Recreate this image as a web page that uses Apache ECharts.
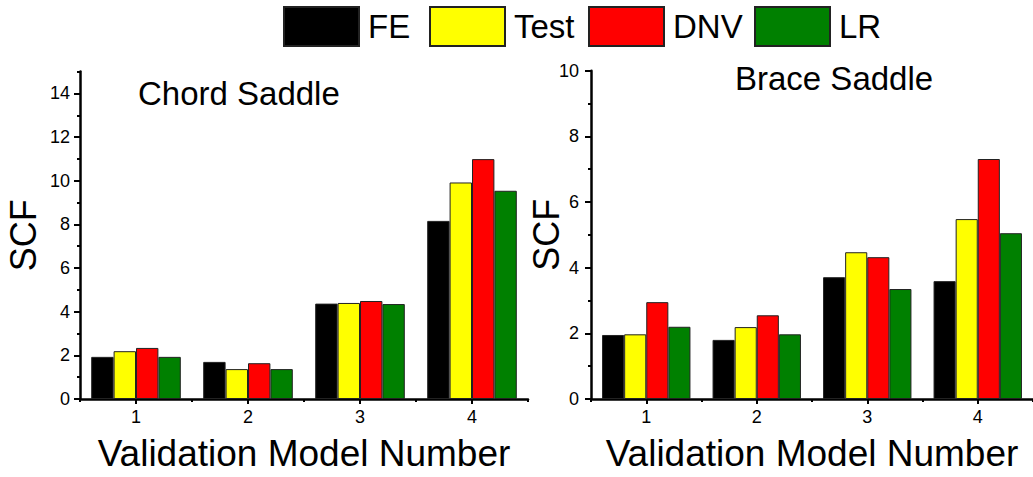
<!DOCTYPE html>
<html>
<head>
<meta charset="utf-8">
<script src="https://cdn.jsdelivr.net/npm/echarts@6/dist/echarts.min.js"></script>
<style>
html,body{margin:0;padding:0;background:#fff;}
#chart{width:1033px;height:477px;}
</style>
</head>
<body>
<div id="chart"></div>
<script>
// ---- data ----
const categories = ['1', '2', '3', '4'];
const seriesNames = ['FE', 'Test', 'DNV', 'LR'];
const chordFE   = [1.93, 1.70, 4.37, 8.16];
const chordTest = [2.19, 1.37, 4.40, 9.92];
const chordDNV  = [2.34, 1.64, 4.49, 10.99];
const chordLR   = [1.93, 1.37, 4.35, 9.54];
const braceFE   = [1.95, 1.80, 3.71, 3.59];
const braceTest = [1.97, 2.19, 4.47, 5.48];
const braceDNV  = [2.95, 2.55, 4.32, 7.31];
const braceLR   = [2.20, 1.97, 3.35, 5.05];
const chordMajorTicks = [0, 2, 4, 6, 8, 10, 12, 14];
const chordMinorTicks = [1, 3, 5, 7, 9, 11, 13, 15];
const titles = ['Chord Saddle', 'Brace Saddle'];
const xName = 'Validation Model Number';
const yName = 'SCF';

// ---- styles ----
const FONT = 'Liberation Sans, Arial, sans-serif';
const colors = ['#000000', '#ffff00', '#ff0000', '#008000'];
const lineStyle = { color: '#000', width: 2.5 };

const chart = echarts.init(document.getElementById('chart'), null, { renderer: 'svg' });

function mainX(gridIndex) {
  return {
    type: 'category', gridIndex: gridIndex, data: categories,
    axisLine: { show: true, lineStyle: lineStyle },
    axisTick: { show: true, alignWithLabel: true, length: 5, lineStyle: { color: '#000', width: 2 } },
    axisLabel: { fontSize: 18, color: '#000', fontFamily: FONT, margin: 9 },
    splitLine: { show: false },
    name: xName, nameLocation: 'middle', nameGap: 36, nameMoveOverlap: false,
    nameTextStyle: { fontSize: 37, color: '#000', fontFamily: FONT }
  };
}
function boundaryX(gridIndex) {
  return {
    type: 'category', gridIndex: gridIndex, data: categories, position: 'bottom',
    axisLine: { show: false },
    axisTick: { show: true, alignWithLabel: false, length: 3, lineStyle: { color: '#000', width: 2 } },
    axisLabel: { show: false }, splitLine: { show: false }
  };
}

const series = [];
const chordData = [chordFE, chordTest, chordDNV, chordLR];
const braceData = [braceFE, braceTest, braceDNV, braceLR];
seriesNames.forEach((n, i) => {
  series.push({
    name: n, type: 'bar', xAxisIndex: 0, yAxisIndex: 0, data: chordData[i],
    barGap: '0%', barCategoryGap: '20%',
    itemStyle: { color: colors[i], borderColor: '#222', borderWidth: 1 }
  });
});
seriesNames.forEach((n, i) => {
  series.push({
    name: n, type: 'bar', xAxisIndex: 2, yAxisIndex: 2, data: braceData[i],
    barGap: '0%', barCategoryGap: '20%',
    itemStyle: { color: colors[i], borderColor: '#222', borderWidth: 1 }
  });
});

const legendLefts = [283, 429, 588, 754];
const legends = seriesNames.map((n, i) => ({
  data: [n], left: legendLefts[i], top: 6, padding: 0,
  itemWidth: 75, itemHeight: 39, icon: 'rect',
  textStyle: { fontSize: 33, color: '#000', fontFamily: FONT, padding: [0, 0, 0, 4] },
  selectedMode: false
}));

const option = {
  backgroundColor: '#fff',
  animation: false,
  title: [
    { text: titles[0], left: 138, top: 77, padding: 0,
      textStyle: { fontSize: 33, fontWeight: 'normal', color: '#000', fontFamily: FONT } },
    { text: titles[1], left: 735, top: 62, padding: 0,
      textStyle: { fontSize: 33, fontWeight: 'normal', color: '#000', fontFamily: FONT } }
  ],
  legend: legends,
  grid: [
    { left: 80, top: 71.6, width: 448, height: 329 },
    { left: 591, top: 70.7, width: 447, height: 329.3 }
  ],
  xAxis: [mainX(0), boundaryX(0), mainX(1), boundaryX(1)],
  yAxis: [
    {
      type: 'value', gridIndex: 0, position: 'left', min: 0, max: 15, interval: 2,
      axisLine: { show: true, lineStyle: lineStyle },
      axisTick: { show: true, length: 6, customValues: chordMajorTicks, lineStyle: { color: '#000', width: 2 } },
      axisLabel: { customValues: chordMajorTicks, fontSize: 18, color: '#000', fontFamily: FONT, margin: 10 },
      splitLine: { show: false },
      name: yName, nameLocation: 'middle', nameRotate: 90, nameGap: 39, nameMoveOverlap: false,
      nameTextStyle: { fontSize: 36, color: '#000', fontFamily: FONT }
    },
    {
      type: 'value', gridIndex: 0, position: 'left', min: 0, max: 15, interval: 1,
      axisLine: { show: false },
      axisTick: { show: true, length: 3, customValues: chordMinorTicks, lineStyle: { color: '#000', width: 2 } },
      axisLabel: { show: false }, splitLine: { show: false }
    },
    {
      type: 'value', gridIndex: 1, position: 'left', min: 0, max: 10, interval: 2,
      axisLine: { show: true, lineStyle: lineStyle },
      axisTick: { show: true, length: 6, lineStyle: { color: '#000', width: 2 } },
      minorTick: { show: true, splitNumber: 2, length: 3, lineStyle: { color: '#000', width: 2 } },
      axisLabel: { fontSize: 18, color: '#000', fontFamily: FONT, margin: 12 },
      splitLine: { show: false }, minorSplitLine: { show: false },
      name: yName, nameLocation: 'middle', nameRotate: 90, nameGap: 27, nameMoveOverlap: false,
      nameTextStyle: { fontSize: 36, color: '#000', fontFamily: FONT }
    }
  ],
  series: series
};
chart.setOption(option);
</script>
</body>
</html>
